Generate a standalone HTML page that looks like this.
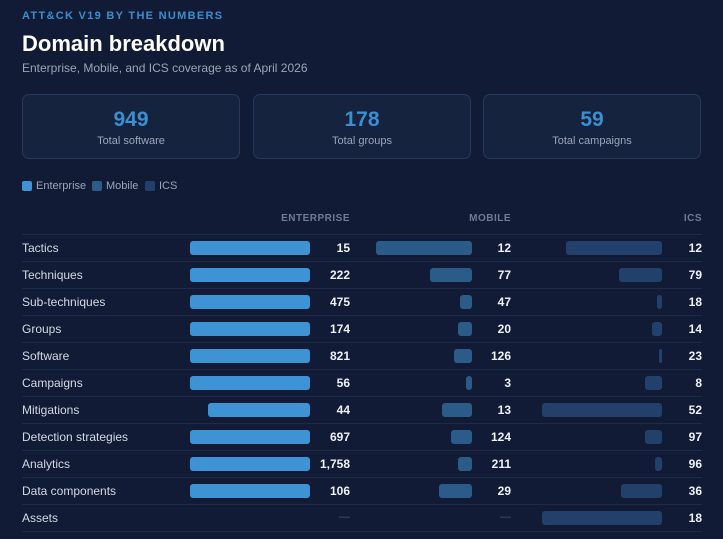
<!DOCTYPE html>
<html><head><meta charset="utf-8"><style>
*{margin:0;padding:0;box-sizing:border-box}
body{width:723px;height:539px;background:#121b35;font-family:"Liberation Sans",sans-serif;position:relative;overflow:hidden;color:#e6ebf2}
.a{position:absolute}
.card{position:absolute;top:94px;width:218px;height:65px;background:#16233f;border:1px solid #26395a;border-radius:7px;text-align:center}
.card .n{font-size:21px;font-weight:bold;color:#3b8fd0;margin-top:13px;line-height:24px}
.card .l{font-size:11px;color:#9aa5b8;margin-top:3px}
.hdr{position:absolute;top:213px;font-size:10px;font-weight:bold;color:#6f7c93;letter-spacing:.5px;text-align:right}
.line{position:absolute;left:22px;width:680px;height:1px;background:#1e2a47}
.lab{position:absolute;left:22px;font-size:12px;color:#d3d9e3}
.v{position:absolute;font-size:12px;font-weight:bold;color:#eef1f6;text-align:right;width:60px}
.b{position:absolute;height:14px;border-radius:3px}
.e{background:#3d93d4}.m{background:#2b5b88}.i{background:#22416a}
.d{position:absolute;font-size:11px;color:#4a5670;text-align:right;width:40px}
</style></head><body>
<div class="a" style="left:22px;top:10px;font-size:11px;font-weight:bold;color:#3b8fd0;letter-spacing:1.3px">ATT&amp;CK V19 BY THE NUMBERS</div>
<div class="a" style="left:22px;top:31px;font-size:22px;font-weight:bold;color:#fff">Domain breakdown</div>
<div class="a" style="left:22px;top:61px;font-size:12px;color:#9aa5b8">Enterprise, Mobile, and ICS coverage as of April 2026</div>
<div class="card" style="left:22px"><div class="n">949</div><div class="l">Total software</div></div>
<div class="card" style="left:253px"><div class="n">178</div><div class="l">Total groups</div></div>
<div class="card" style="left:483px"><div class="n">59</div><div class="l">Total campaigns</div></div>
<div class="a" style="left:22px;top:181px;width:10px;height:10px;border-radius:2px;background:#3d93d4"></div>
<div class="a" style="left:36px;top:180px;font-size:11px;color:#9aa5b8">Enterprise</div>
<div class="a" style="left:92px;top:181px;width:10px;height:10px;border-radius:2px;background:#2b5b88"></div>
<div class="a" style="left:106px;top:180px;font-size:11px;color:#9aa5b8">Mobile</div>
<div class="a" style="left:145px;top:181px;width:10px;height:10px;border-radius:2px;background:#22416a"></div>
<div class="a" style="left:159px;top:180px;font-size:11px;color:#9aa5b8">ICS</div>
<div class="hdr" style="left:250px;width:100px">ENTERPRISE</div>
<div class="hdr" style="left:411px;width:100px">MOBILE</div>
<div class="hdr" style="left:602px;width:100px">ICS</div>
<div id="rows"></div>
<script>
var R=[["Tactics",120,"15",96,"12",96,"12"],["Techniques",120,"222",42,"77",43,"79"],["Sub-techniques",120,"475",12,"47",5,"18"],["Groups",120,"174",14,"20",10,"14"],["Software",120,"821",18,"126",3,"23"],["Campaigns",120,"56",6,"3",17,"8"],["Mitigations",102,"44",30,"13",120,"52"],["Detection strategies",120,"697",21,"124",17,"97"],["Analytics",120,"1,758",14,"211",7,"96"],["Data components",120,"106",33,"29",41,"36"],["Assets",0,"",0,"",120,"18"]];
var h='';
for(var k=0;k<R.length;k++){var r=R[k],t=234+27*k;
h+='<div class="line" style="top:'+t+'px"></div>';
h+='<div class="lab" style="top:'+(t+7)+'px">'+r[0]+'</div>';
var cols=[[310,350,'e',1],[472,511,'m',3],[662,702,'i',5]];
for(var c=0;c<3;c++){var C=cols[c],w=r[C[3]],v=r[C[3]+1];
if(w){h+='<div class="b '+C[2]+'" style="top:'+(t+7)+'px;left:'+(C[0]-w)+'px;width:'+w+'px"></div>';
h+='<div class="v" style="top:'+(t+7)+'px;left:'+(C[1]-60)+'px">'+v+'</div>';}
else h+='<div class="d" style="top:'+(t+7)+'px;left:'+(C[1]-40)+'px">—</div>';}
}
h+='<div class="line" style="top:'+(234+27*11)+'px"></div>';
document.getElementById('rows').innerHTML=h;
</script>
</body></html>
